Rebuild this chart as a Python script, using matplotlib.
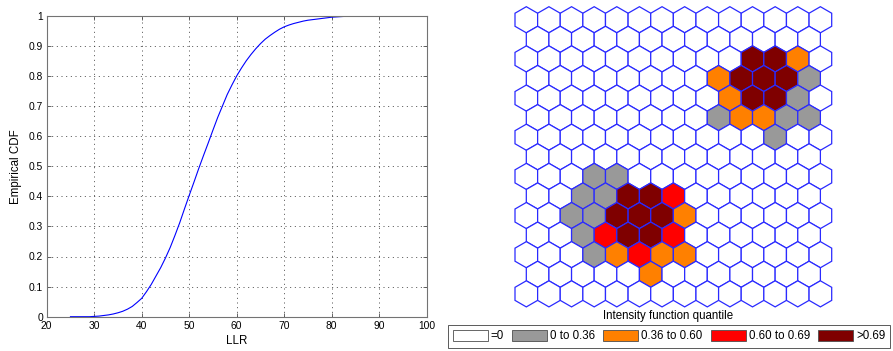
import numpy as np
import matplotlib
matplotlib.use('Agg')
import matplotlib.pyplot as plt
from matplotlib.patches import RegularPolygon, Patch

plt.rcParams['font.family'] = ['Liberation Sans', 'DejaVu Sans']

# empirical CDF of the LLR (1 unit steps)
LLR = list(range(25, 95))
CDF = [0.000, 0.000, 0.000, 0.000, 0.000, 0.001, 0.002, 0.004, 0.006, 0.009,
       0.013, 0.018, 0.025, 0.034, 0.047, 0.061, 0.083, 0.107, 0.135, 0.163,
       0.195, 0.230, 0.270, 0.312, 0.358, 0.403, 0.447, 0.492, 0.535, 0.577,
       0.620, 0.662, 0.700, 0.738, 0.770, 0.800, 0.826, 0.850, 0.871, 0.890,
       0.907, 0.922, 0.934, 0.945, 0.955, 0.963, 0.969, 0.974, 0.978, 0.982,
       0.985, 0.987, 0.989, 0.991, 0.993, 0.995, 0.996, 0.997, 0.998, 0.998,
       0.999, 0.999, 0.999, 1.000, 1.000, 1.000, 1.000, 1.000, 1.000, 1.000]

# SOM hex map, top row first. odd rows are shifted half a cell right
# . = 0, g = 0 to 0.36, o = 0.36 to 0.60, r = 0.60 to 0.69, d = >0.69
MAP_ROWS = [
    '..............',
    '.............',
    '..........ddo.',
    '........odddg',
    '.........oddg.',
    '........googg',
    '...........g..',
    '.............',
    '...gg.........',
    '..ggddr......',
    '..ggdddo......',
    '..grddr......',
    '...goroo......',
    '.....o.......',
    '..............',
]
CLASS_CODES = ['.', 'g', 'o', 'r', 'd']
CLASS_LABELS = ['=0', '0 to 0.36', '0.36 to 0.60', '0.60 to 0.69', '>0.69']
CLASS_COLORS = ['white', '#999999', '#ff8000', '#ff0000', '#7f0000']

W, H = 893, 351
fig = plt.figure(figsize=(W / 100, H / 100), dpi=100)

# --- left: empirical CDF ---
ax = fig.add_axes([46.7 / W, 1 - 316.7 / H, 380 / W, 301 / H])
ax.plot(LLR, CDF, color='#0000ff', lw=0.8)
ax.set_xlim(20, 100)
ax.set_ylim(0, 1)
ax.set_xticks(range(20, 101, 10))
ax.set_yticks(np.arange(0, 1.01, 0.1))
ax.set_yticklabels(['0', '0.1', '0.2', '0.3', '0.4', '0.5', '0.6', '0.7', '0.8', '0.9', '1'])
ax.tick_params(direction='in', length=3, width=0.6, labelsize=7.4,
               top=True, right=True, color='0.3')
ax.tick_params(axis='x', pad=3)
ax.tick_params(axis='y', pad=2.5)
ax.grid(True, color='0.2', lw=0.6, linestyle=(0, (1.2, 4.4)))
for sp in ax.spines.values():
    sp.set_color('0.45')
    sp.set_linewidth(0.8)
ax.set_xlabel('LLR', fontsize=8.3)
ax.set_ylabel('Empirical CDF', fontsize=8.3)
ax.xaxis.set_label_coords(0.5, -0.062)
ax.yaxis.set_label_coords(-0.066, 0.5)

# --- right: hex map ---
nrows = len(MAP_ROWS)
dy = np.sqrt(3) / 2
r_hex = 1 / np.sqrt(3)
hx = fig.add_axes([515 / W, 1 - 306.9 / H, 316.7 / W, 300.2 / H])
hx.set_xlim(0, 14)
hx.set_ylim(-(nrows - 1) * dy - r_hex, r_hex)
hx.axis('off')
for i, row in enumerate(MAP_ROWS):
    shift = 0.5 if i % 2 else 0.0
    for j, code in enumerate(row):
        color = CLASS_COLORS[CLASS_CODES.index(code)]
        hexagon = RegularPolygon((j + 0.5 + shift, -i * dy), numVertices=6,
                                 radius=r_hex, orientation=0,
                                 facecolor=color, edgecolor='#2a2aff',
                                 lw=0.9, clip_on=False)
        hx.add_patch(hexagon)

fig.text(668 / W, 1 - 316 / H, 'Intensity function quantile',
         ha='center', va='center', fontsize=8.3)

handles = [Patch(facecolor=c, edgecolor='0.3', lw=0.6) for c in CLASS_COLORS]
leg = fig.legend(handles, CLASS_LABELS, loc='center', ncol=5,
                 bbox_to_anchor=(669 / W, 1 - 336.4 / H), fontsize=8.3,
                 handlelength=3.05, handleheight=1.0, handletextpad=0.25,
                 columnspacing=0.7, borderpad=0.45, fancybox=False,
                 edgecolor='0.25', framealpha=1)
leg.get_frame().set_linewidth(0.6)

plt.savefig('out.png', dpi=100)
